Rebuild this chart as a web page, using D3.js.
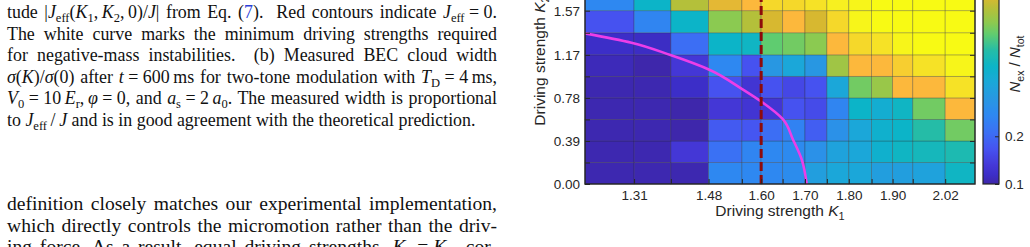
<!DOCTYPE html>
<html><head><meta charset="utf-8">
<script src="https://cdn.jsdelivr.net/npm/d3@7"></script>
<style>html,body{margin:0;padding:0;background:#fff;overflow:hidden}</style>
</head><body>
<svg id="fig" width="1030" height="247" xmlns="http://www.w3.org/2000/svg"></svg>
<script>
// ---------------- data ----------------
const k1Edges = [1.198, 1.31, 1.394, 1.48, 1.556, 1.60, 1.649, 1.70, 1.75, 1.80, 1.852, 1.90, 1.946, 2.02, 2.088];
const k2Edges = [0, 0.195, 0.39, 0.585, 0.78, 0.975, 1.17, 1.37, 1.57, 1.765];
const k1TickLabels = [1.31, 1.48, 1.60, 1.70, 1.80, 1.90, 2.02];
const k2TickLabels = [0.00, 0.39, 0.78, 1.17, 1.57];
const colorTickLabels = [0.1, 0.2];
const colorRange = [0.1, 0.582];
// N_ex/N_tot per cell, rows from K2 = 0 upward, columns along K1
const row0 = [.105,.105,.105,.245,.245,.245,.254,.293,.312,.312,.293,.293,.302,.351];
const row1 = [.105,.105,.139,.211,.240,.245,.249,.264,.302,.312,.336,.351,.360,.370];
const row2 = [.105,.105,.102,.182,.177,.206,.235,.187,.264,.312,.336,.346,.380,.423];
const row3 = [.105,.105,.102,.139,.134,.134,.172,.163,.240,.346,.327,.351,.423,.519];
const row4 = [.105,.105,.119,.172,.134,.172,.158,.172,.312,.423,.447,.519,.519,.558];
const row5 = [.110,.102,.139,.245,.172,.278,.312,.278,.452,.519,.519,.539,.558,.577];
const row6 = [.119,.117,.206,.346,.351,.413,.423,.437,.519,.548,.558,.577,.582,.582];
const row7 = [.172,.240,.346,.437,.466,.490,.519,.490,.548,.577,.582,.582,.582,.582];
const row8 = [.245,.346,.466,.500,.519,.548,.548,.558,.572,.577,.582,.582,.582,.582];
const rows = [row0,row1,row2,row3,row4,row5,row6,row7,row8];
// threshold curve
const curveK1 = [1.198, 1.304, 1.393, 1.483, 1.554, 1.601, 1.649, 1.673, 1.693, 1.704];
const curveK2 = [1.365, 1.280, 1.168, 1.033, 0.867, 0.745, 0.589, 0.399, 0.217, 0.0];
const thresholdK1 = 1.60;

// colormap (parula-like) stops
const cmapT = [0, .04, .08, .15, .22, .30, .37, .44, .51, .58, .65, .70, .76, .81, .87, .93, .98, 1];
const cmapC = ["#3e26a8","#3c2ec8","#4437d6","#4652f0","#3c6ef4","#2e88f1","#2897e2","#1ba7d9","#0cb4c8","#24bca8","#60cc70","#8cca50","#b4c03a","#d8b830","#fcb83c","#f5d82a","#f7f020","#f8fa14"];

// ---------------- caption text ----------------
const capLine1 = [["tude |",""],["J","i"],["eff","s"],["(",""],["K","i"],["1","s"],[",\u2009",""],["K","i"],["2","s"],[",\u20090)/",""],["J","i"],["| from Eq. (",""],["7","b"],[").  Red contours indicate ",""],["J","i"],["eff","s"],["\u2005=\u20050.",""]];
const capLine2 = [["The white curve marks the minimum driving strengths required",""]];
const capLine3 = [["for negative-mass instabilities.  (b) Measured BEC cloud width",""]];
const capLine4 = [["\u03c3","i"],["(",""],["K","i"],[")/",""],["\u03c3","i"],["(0) after ",""],["t","i"],["\u2005=\u2005600\u2009ms for two-tone modulation with ",""],["T","i"],["D","s"],["\u2005=\u20054\u2009ms,",""]];
const capLine5 = [["V","i"],["0","s"],["\u2005=\u200510\u2009",""],["E","i"],["r","s"],[",\u2009",""],["\u03c6","i"],["\u2005=\u20050, and ",""],["a","i"],["s","s"],["\u2005=\u20052\u2009",""],["a","i"],["0","s"],[". The measured width is proportional",""]];
const capLine6 = [["to ",""],["J","i"],["eff","s"],["\u2009/\u2009",""],["J","i"],[" and is in good agreement with the theoretical prediction.",""]];
const bodyLine1 = [["definition closely matches our experimental implementation,",""]];
const bodyLine2 = [["which directly controls the micromotion rather than the driv-",""]];
const bodyLine3 = [["ing force. As a result, equal driving strengths, ",""],["K","i"],["1","s"],["\u2005=\u2005",""],["K","i"],["2","s"],[", cor-",""]];

// ---------------- drawing ----------------
const svg = d3.select("#fig");
const serif = "'Liberation Serif','Times New Roman',serif";
const sans = "'Liberation Sans',Arial,Helvetica,sans-serif";

function renderLine(g, x, y, segs, fs, width) {
  const text = g.append("text").attr("x", x).attr("y", y)
    .attr("font-family", serif).attr("font-size", fs).attr("fill", "#111")
    .attr("xml:space", "preserve");
  let shifted = false;
  segs.forEach(([str, st]) => {
    const ts = text.append("tspan").text(str);
    if (st === "i") ts.attr("font-style", "italic");
    if (st === "b") ts.attr("fill", "#2b3fd8");
    if (st === "s") {
      ts.attr("font-size", fs * 0.7);
      if (!shifted) { ts.attr("dy", fs * 0.22); shifted = true; }
    } else if (shifted) { ts.attr("dy", -fs * 0.22); shifted = false; }
  });
  if (width) {
    const nat = text.node().getComputedTextLength();
    const full = segs.map(s => s[0]).join("");
    const n = (full.match(/ /g) || []).length;
    if (n) text.style("word-spacing", ((width - nat) / n) + "px");
  }
  return text;
}

const tg = svg.append("g");
const capFs = 17.9, bodyFs = 19.6, textW = 490, textX = 7;
const capLines = [capLine1, capLine2, capLine3, capLine4, capLine5, capLine6];
capLines.forEach((l, i) => renderLine(tg, textX, 18 + i * 21.6, l, capFs, i < 5 ? textW : null));
[bodyLine1, bodyLine2, bodyLine3].forEach((l, i) => renderLine(tg, textX, 210 + i * 21.7, l, bodyFs, textW));

// chart
const plotL = 585, plotR = 975, plotB = 184, plotT = -46;
const x = d3.scaleLinear().domain([k1Edges[0], k1Edges[k1Edges.length - 1]]).range([plotL, plotR]);
const y = d3.scaleLinear().domain([0, (plotB - plotT) / 110.4]).range([plotB, plotT]);
const tScale = d3.scaleLinear().domain(colorRange).range([0, 1]).clamp(true);
const cmap = d3.scaleLinear().domain(cmapT).range(cmapC).interpolate(d3.interpolateRgb);
const color = v => cmap(tScale(v));

const cg = svg.append("g");
cg.append("clipPath").attr("id", "clip").append("rect")
  .attr("x", plotL).attr("y", plotT).attr("width", plotR - plotL).attr("height", plotB - plotT);

const cells = [];
rows.forEach((r, ri) => r.forEach((v, ci) => cells.push({
  x0: k1Edges[ci], x1: k1Edges[ci + 1], y0: k2Edges[ri], y1: k2Edges[ri + 1], v })));
cg.append("g").selectAll("rect").data(cells).join("rect")
  .attr("x", d => x(d.x0)).attr("y", d => y(d.y1))
  .attr("width", d => x(d.x1) - x(d.x0)).attr("height", d => y(d.y0) - y(d.y1))
  .attr("fill", d => color(d.v))
  .attr("stroke", "rgba(40,40,40,0.35)").attr("stroke-width", 0.8);

// magenta threshold curve
const curvePts = curveK1.map((k, i) => [k, curveK2[i]]);
cg.append("path").datum(curvePts)
  .attr("clip-path", "url(#clip)")
  .attr("d", d3.line().x(d => x(d[0])).y(d => y(d[1])).curve(d3.curveMonotoneY))
  .attr("fill", "none").attr("stroke", "#ec3ee8").attr("stroke-width", 2.6);

// dashed vertical line
cg.append("line")
  .attr("x1", x(thresholdK1)).attr("x2", x(thresholdK1))
  .attr("y1", y(0)).attr("y2", plotT)
  .attr("stroke", "#8e0a0a").attr("stroke-width", 3).attr("stroke-dasharray", "9,4");

// axes
const axisColor = "#262626";
const innerK1 = k1Edges.slice(1, -1);
const innerK2 = k2Edges.slice(1);
const fmtX = d => k1TickLabels.some(t => Math.abs(t - d) < 1e-6) ? d3.format(".2f")(d) : "";
const fmtY = d => k2TickLabels.some(t => Math.abs(t - d) < 1e-6) ? d3.format(".2f")(d) : "";

function styleAxis(g) {
  g.select(".domain").remove();
  g.selectAll("line").attr("stroke", axisColor).attr("stroke-width", 1);
  g.selectAll("text").attr("font-family", sans).attr("font-size", 13.5).attr("fill", axisColor);
}
cg.append("g").attr("transform", `translate(0,${plotB})`)
  .call(d3.axisBottom(x).tickValues(innerK1).tickFormat(fmtX).tickSizeInner(-5).tickSizeOuter(0).tickPadding(6))
  .call(styleAxis);
cg.append("g").attr("transform", `translate(${plotL},0)`)
  .call(d3.axisLeft(y).tickValues([0, ...innerK2]).tickFormat(fmtY).tickSizeInner(-5).tickSizeOuter(0).tickPadding(5))
  .call(styleAxis);
cg.append("g").attr("transform", `translate(${plotR},0)`)
  .call(d3.axisRight(y).tickValues(innerK2).tickFormat("").tickSizeInner(-5).tickSizeOuter(0))
  .call(styleAxis);
// frame
cg.append("rect").attr("x", plotL).attr("y", plotT).attr("width", plotR - plotL).attr("height", plotB - plotT)
  .attr("fill", "none").attr("stroke", axisColor).attr("stroke-width", 1.4);

// axis labels
const xl = cg.append("text").attr("x", (plotL + plotR) / 2).attr("y", 215.5)
  .attr("text-anchor", "middle").attr("font-family", sans).attr("font-size", 15.5).attr("fill", axisColor);
xl.append("tspan").text("Driving strength ");
xl.append("tspan").attr("font-style", "italic").text("K");
xl.append("tspan").attr("font-size", 11).attr("dy", 4).text("1");

const yl = cg.append("text").attr("transform", `translate(545,${(plotB + plotT) / 2 - 8}) rotate(-90)`)
  .attr("text-anchor", "middle").attr("font-family", sans).attr("font-size", 15.5).attr("fill", axisColor);
yl.append("tspan").text("Driving strength ");
yl.append("tspan").attr("font-style", "italic").text("K");
yl.append("tspan").attr("font-size", 11).attr("dy", 4).text("2");

// colorbar
const cbL = 983, cbW = 16;
const cy = d3.scaleLinear().domain(colorRange).range([plotB, plotT]);
const defs = svg.append("defs");
const grad = defs.append("linearGradient").attr("id", "cbgrad").attr("x1", 0).attr("y1", 1).attr("x2", 0).attr("y2", 0);
d3.range(0, 1.0001, 0.01).forEach(t => grad.append("stop").attr("offset", t).attr("stop-color", cmap(t)));
cg.append("rect").attr("x", cbL).attr("y", plotT).attr("width", cbW).attr("height", plotB - plotT)
  .attr("fill", "url(#cbgrad)").attr("stroke", axisColor).attr("stroke-width", 1.2);
cg.append("g").attr("transform", `translate(${cbL + cbW},0)`)
  .call(d3.axisRight(cy).tickValues(colorTickLabels).tickFormat(d3.format(".1f")).tickSizeInner(-4).tickSizeOuter(0).tickPadding(6))
  .call(styleAxis);
const cl = cg.append("text").attr("transform", `translate(1020,64) rotate(-90)`)
  .attr("text-anchor", "middle").attr("font-family", sans).attr("font-size", 15).attr("fill", axisColor);
cl.append("tspan").attr("font-style", "italic").text("N");
cl.append("tspan").attr("font-size", 10.5).attr("dy", 4).text("ex");
cl.append("tspan").attr("dy", -4).text(" / ");
cl.append("tspan").attr("font-style", "italic").text("N");
cl.append("tspan").attr("font-size", 10.5).attr("dy", 4).text("tot");
</script>
</body></html>
